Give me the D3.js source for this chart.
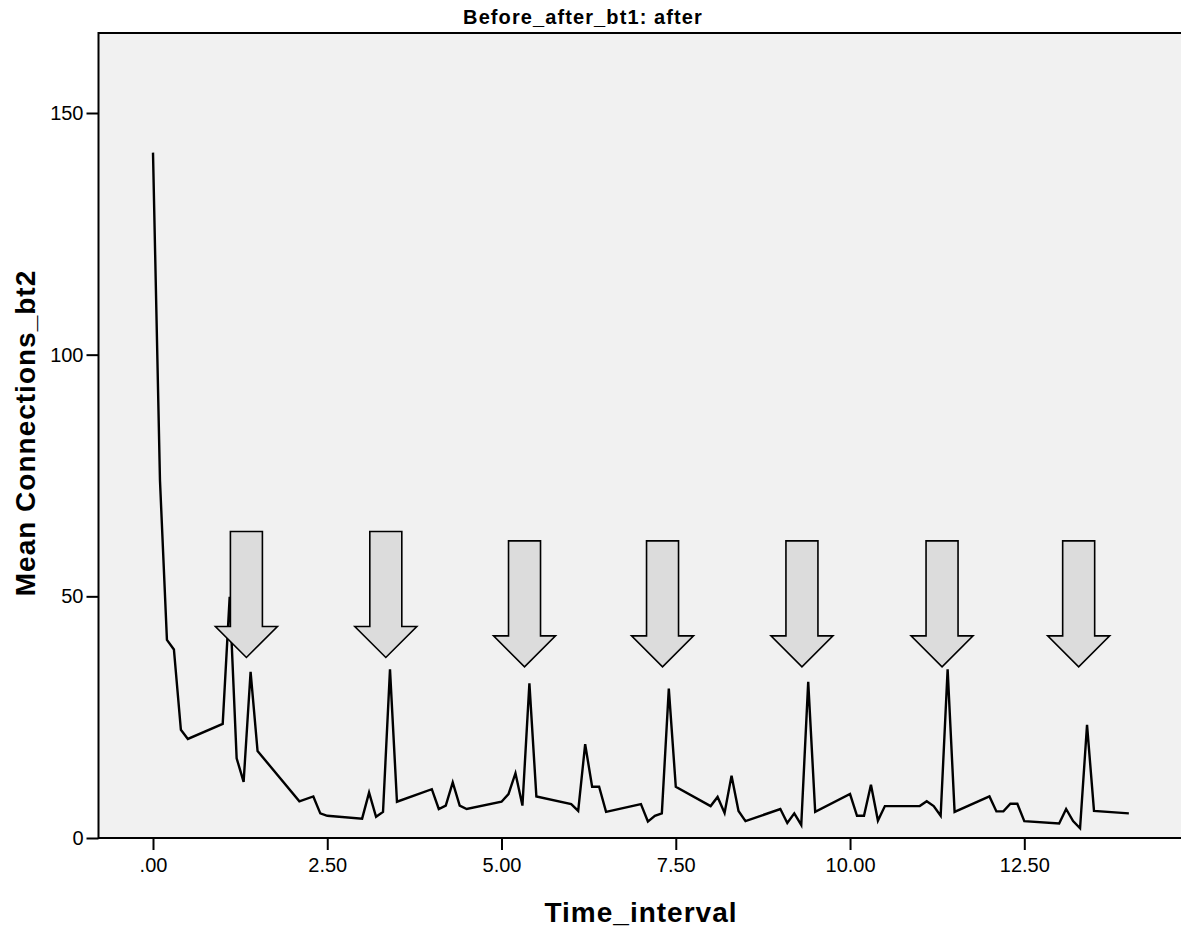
<!DOCTYPE html>
<html>
<head>
<meta charset="utf-8">
<script src="https://cdn.jsdelivr.net/npm/d3@7"></script>
<style>
  html, body { margin: 0; padding: 0; background: #ffffff; }
  svg { display: block; }
  text { font-family: Arial, "Liberation Sans", sans-serif; }
</style>
</head>
<body>
<svg id="chart" width="1181" height="928"></svg>
<script>
// ---- data ----
const timeInterval = [0, 0.1, 0.2, 0.3, 0.4, 0.5, 1.0, 1.1, 1.2, 1.3, 1.4, 1.5, 2.1, 2.3, 2.4, 2.5,
  3.0, 3.1, 3.2, 3.3, 3.4, 3.5, 4.0, 4.1, 4.2, 4.3, 4.4, 4.5, 5.0, 5.1, 5.2, 5.3, 5.4, 5.5,
  6.0, 6.1, 6.2, 6.3, 6.4, 6.5, 7.0, 7.1, 7.2, 7.3, 7.4, 7.5, 8.0, 8.1, 8.2, 8.3, 8.4, 8.5,
  9.0, 9.1, 9.2, 9.3, 9.4, 9.5, 10.0, 10.1, 10.2, 10.3, 10.4, 10.5, 11.0, 11.1, 11.2, 11.3, 11.4, 11.5,
  12.0, 12.1, 12.2, 12.3, 12.4, 12.5, 13.0, 13.1, 13.2, 13.3, 13.4, 13.5, 14.0];
const meanConnections = [141.8, 74, 41, 39, 22.4, 20.5, 23.6, 49.9, 16.5, 11.6, 34.4, 18.0, 7.6, 8.6, 5.1, 4.6,
  4.0, 9.4, 4.4, 5.4, 34.9, 7.5, 10.1, 6.0, 6.7, 11.5, 6.7, 6.0, 7.5, 9.1, 13.4, 6.7, 32.0, 8.6,
  7.0, 5.6, 19.4, 10.6, 10.6, 5.4, 7.0, 3.4, 4.6, 5.1, 30.9, 10.6, 6.6, 8.5, 5.2, 12.9, 5.6, 3.5,
  6.0, 3.1, 5.1, 2.7, 32.3, 5.4, 9.1, 4.6, 4.6, 11.0, 3.6, 6.6, 6.6, 7.6, 6.6, 4.6, 34.9, 5.4,
  8.6, 5.5, 5.5, 7.1, 7.1, 3.5, 3.0, 6.0, 3.5, 2.0, 23.4, 5.6, 5.1];
const xTicks = [0, 2.5, 5, 7.5, 10, 12.5];
const xTickLabels = [".00", "2.50", "5.00", "7.50", "10.00", "12.50"];
const yTicks = [0, 50, 100, 150];
const yTickLabels = ["0", "50", "100", "150"];
// annotation arrows: tip position in data units
const arrowTipTime = [1.34, 3.34, 5.33, 7.31, 9.31, 11.32, 13.28];
const arrowTipValue = [37.35, 37.35, 35.4, 35.4, 35.4, 35.4, 35.4];
const titleText = "Before_after_bt1: after";
const xTitle = "Time_interval";
const yTitle = "Mean Connections_bt2";

// ---- layout ----
const svg = d3.select("#chart");
const plotLeft = 98.5, plotTop = 33, plotBottom = 838, plotRight = 1182;

const x = d3.scaleLinear().domain([0, 12.5]).range([153, 1024.3]);
const y = d3.scaleLinear().domain([0, 150]).range([plotBottom, 113]);

// plot background
svg.append("rect")
  .attr("x", plotLeft).attr("y", plotTop)
  .attr("width", plotRight - plotLeft).attr("height", plotBottom - plotTop)
  .attr("fill", "#f1f1f1").attr("stroke", "#000").attr("stroke-width", 2);

// line
const pts = timeInterval.map((t, i) => [t, meanConnections[i]]);
const line = d3.line().x(d => x(d[0])).y(d => y(d[1]));
svg.append("path")
  .datum(pts)
  .attr("d", line)
  .attr("fill", "none").attr("stroke", "#000")
  .attr("stroke-width", 2.4).attr("stroke-linejoin", "miter");

// arrows
const shaftHalf = 16, headHalf = 31, headH = 31, totalH = 126;
arrowTipTime.forEach((t, i) => {
  const tx = x(t), ty = y(arrowTipValue[i]);
  const p = [
    [tx - shaftHalf, ty - totalH], [tx + shaftHalf, ty - totalH],
    [tx + shaftHalf, ty - headH], [tx + headHalf, ty - headH],
    [tx, ty],
    [tx - headHalf, ty - headH], [tx - shaftHalf, ty - headH]
  ];
  svg.append("path")
    .attr("d", "M" + p.map(q => q.join(",")).join("L") + "Z")
    .attr("fill", "#dcdcdc").attr("stroke", "#000").attr("stroke-width", 1.6)
    .attr("stroke-linejoin", "miter");
});

// axes
const yAxis = d3.axisLeft(y).tickValues(yTicks)
  .tickFormat((d, i) => yTickLabels[i]).tickSize(12).tickPadding(3);
const gy = svg.append("g").attr("transform", `translate(${plotLeft},0)`).call(yAxis);
gy.select(".domain").remove();
gy.selectAll(".tick line").attr("stroke", "#000").attr("stroke-width", 2);
gy.selectAll(".tick text").attr("font-size", 20).attr("fill", "#000")
  .attr("font-family", "Arial, 'Liberation Sans', sans-serif");

const xAxis = d3.axisBottom(x).tickValues(xTicks)
  .tickFormat((d, i) => xTickLabels[i]).tickSize(12).tickPadding(8);
const gx = svg.append("g").attr("transform", `translate(0,${plotBottom})`).call(xAxis);
gx.select(".domain").remove();
gx.selectAll(".tick line").attr("stroke", "#000").attr("stroke-width", 2);
gx.selectAll(".tick text").attr("font-size", 20).attr("fill", "#000")
  .attr("font-family", "Arial, 'Liberation Sans', sans-serif");

// titles
svg.append("text")
  .attr("x", 583).attr("y", 24)
  .attr("text-anchor", "middle")
  .attr("font-size", 20).attr("font-weight", "bold")
  .attr("letter-spacing", "1.1px")
  .text(titleText);

svg.append("text")
  .attr("x", 641).attr("y", 922)
  .attr("text-anchor", "middle")
  .attr("font-size", 28).attr("font-weight", "bold")
  .attr("letter-spacing", "1px")
  .text(xTitle);

svg.append("text")
  .attr("transform", "translate(35,433) rotate(-90)")
  .attr("text-anchor", "middle")
  .attr("font-size", 28).attr("font-weight", "bold")
  .attr("letter-spacing", "1px")
  .text(yTitle);
</script>
</body>
</html>
